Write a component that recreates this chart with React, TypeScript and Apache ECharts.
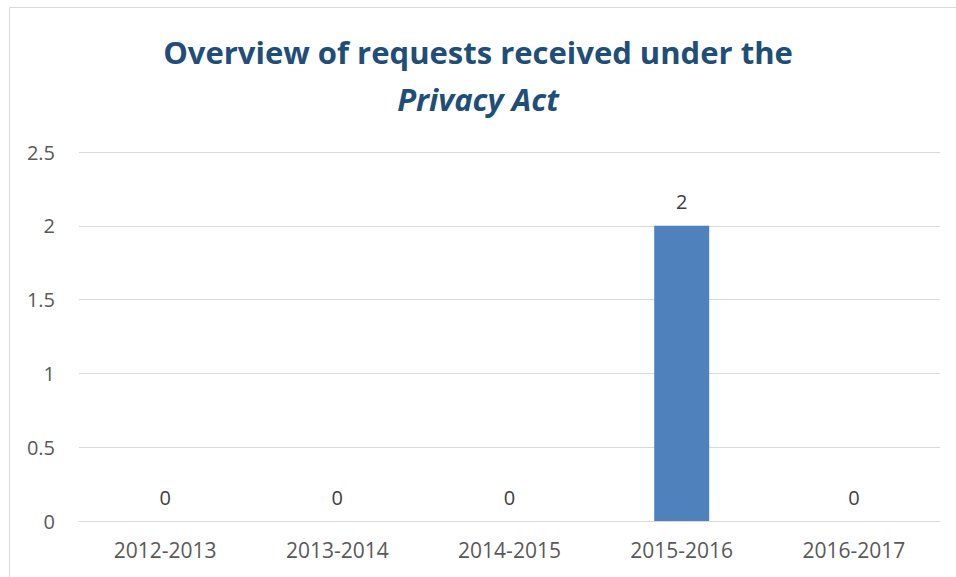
import React, { useEffect, useRef } from "react";
import * as echarts from "echarts";

const categories = ["2012-2013", "2013-2014", "2014-2015", "2015-2016", "2016-2017"];
const requests = [0, 0, 0, 2, 0];
const titleLine1 = "Overview of requests received under the";
const titleLine2 = "Privacy Act";

export default function App() {
  const ref = useRef<HTMLDivElement>(null);
  useEffect(() => {
    if (!ref.current) return;
    const chart = echarts.init(ref.current, null, { renderer: "svg" });
    const font = "'Open Sans', 'Noto Sans', sans-serif";
    chart.setOption({
      animation: false,
      backgroundColor: "#ffffff",
      title: {
        text: titleLine1 + "\n{i|" + titleLine2 + "}",
        left: "center",
        top: 23,
        textStyle: {
          fontFamily: font,
          fontSize: 31,
          fontWeight: "bold",
          color: "#1f4e79",
          lineHeight: 47,
          rich: {
            i: {
              fontFamily: font,
              fontSize: 31,
              fontWeight: "bold",
              fontStyle: "italic",
              color: "#1f4e79",
              lineHeight: 47,
            },
          },
        },
      },
      graphic: [
        {
          type: "rect",
          shape: { x: 9.5, y: 7.5, width: 1000, height: 700 },
          style: { fill: "none", stroke: "#d9d9d9", lineWidth: 1 },
          silent: true,
        },
      ],
      grid: { left: 79, right: 16, top: 152, bottom: 56, containLabel: false },
      xAxis: {
        type: "category",
        data: categories,
        axisLine: { show: true, lineStyle: { color: "#d9d9d9", width: 1 } },
        axisTick: { show: false },
        axisLabel: { fontFamily: font, fontSize: 21, color: "#595959", margin: 18 },
      },
      yAxis: {
        type: "value",
        min: 0,
        max: 2.5,
        interval: 0.5,
        axisLine: { show: false },
        axisTick: { show: false },
        splitLine: { lineStyle: { color: "#d9d9d9", width: 1 } },
        axisLabel: { fontFamily: font, fontSize: 20, color: "#595959", margin: 24 },
      },
      series: [
        {
          type: "bar",
          data: requests,
          barWidth: 55,
          itemStyle: { color: "#4f81bd" },
          label: {
            show: true,
            position: "top",
            distance: 14,
            fontFamily: font,
            fontSize: 20,
            color: "#404040",
          },
        },
      ],
    });
    return () => chart.dispose();
  }, []);
  return (
    <div
      ref={ref}
      style={{ position: "fixed", left: 0, top: 0, width: 956, height: 577 }}
    />
  );
}
